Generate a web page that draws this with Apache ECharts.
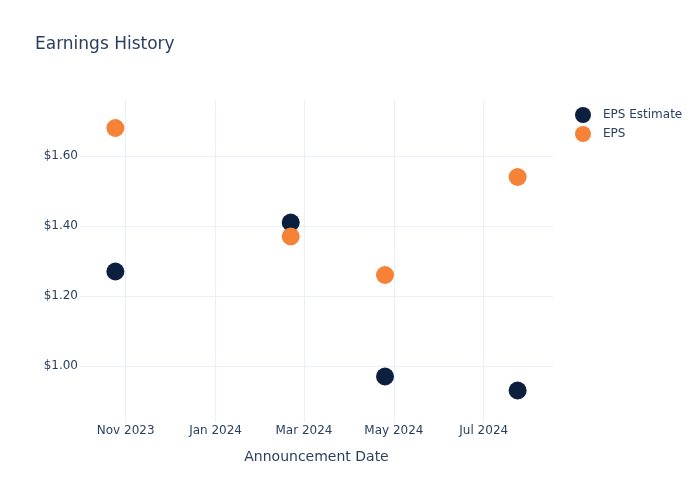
<!DOCTYPE html>
<html><head><meta charset="utf-8">
<script src="https://cdn.jsdelivr.net/npm/echarts@6/dist/echarts.min.js"></script>
<style>html,body{margin:0;padding:0;background:#fff}#c{width:700px;height:500px}</style>
</head><body><div id="c"></div>
<script>
const dates = ['2023-10-25', '2024-02-21', '2024-04-25', '2024-07-24'];
const epsEstimate = [1.27, 1.41, 0.97, 0.93];
const eps = [1.68, 1.37, 1.26, 1.54];
const xTicks = ['2023-11-01', '2024-01-01', '2024-03-01', '2024-05-01', '2024-07-01'];
const yTicks = [1.0, 1.2, 1.4, 1.6];
const monthNames = ['Jan','Feb','Mar','Apr','May','Jun','Jul','Aug','Sep','Oct','Nov','Dec'];

const ts = s => { const [y,m,d] = s.split('-').map(Number); return Date.UTC(y, m-1, d); };
const xTickVals = xTicks.map(ts);
const font = 'DejaVu Sans, Verdana, sans-serif';
const txt = '#2a3f5f';
const chart = echarts.init(document.getElementById('c'));
chart.setOption({
  animation: false,
  title: { text: 'Earnings History', left: 30, top: 31, textStyle: { fontFamily: font, fontSize: 17, fontWeight: 'normal', color: txt } },
  legend: {
    orient: 'vertical', left: 570, top: 102, itemGap: 3, itemWidth: 20, itemHeight: 16,
    icon: 'circle', textStyle: { fontFamily: font, fontSize: 12, color: txt, padding: [0, 0, 0, 5] },
    data: ['EPS Estimate', 'EPS']
  },
  grid: { left: 80, right: 147, top: 100, bottom: 78, containLabel: false },
  xAxis: {
    type: 'value', min: ts('2023-10-01'), max: ts('2024-08-17'),
    name: 'Announcement Date', nameLocation: 'middle', nameGap: 28,
    nameTextStyle: { fontFamily: font, fontSize: 14, color: txt },
    axisLine: { show: false }, axisTick: { show: false, customValues: xTickVals },
    axisLabel: { customValues: xTickVals, fontFamily: font, fontSize: 12, color: txt, margin: 3,
      formatter: v => { const d = new Date(v); return monthNames[d.getUTCMonth()] + ' ' + d.getUTCFullYear(); } },
    splitLine: { show: true, customValues: xTickVals, lineStyle: { color: '#ebf0f8', width: 1 } }
  },
  yAxis: {
    type: 'value', min: 0.84, max: 1.76,
    axisLine: { show: false }, axisTick: { show: false, customValues: yTicks },
    axisLabel: { customValues: yTicks, fontFamily: font, fontSize: 12, color: txt, margin: 2,
      formatter: v => '$' + v.toFixed(2) },
    splitLine: { show: true, customValues: yTicks, lineStyle: { color: '#ebf0f8', width: 1 } }
  },
  series: [
    { name: 'EPS Estimate', type: 'scatter', symbolSize: 18, itemStyle: { color: '#0c1f3f', opacity: 1 },
      data: dates.map((d, i) => [ts(d), epsEstimate[i]]) },
    { name: 'EPS', type: 'scatter', symbolSize: 18, itemStyle: { color: '#f68237', opacity: 1 },
      data: dates.map((d, i) => [ts(d), eps[i]]) }
  ]
});
</script></body></html>
